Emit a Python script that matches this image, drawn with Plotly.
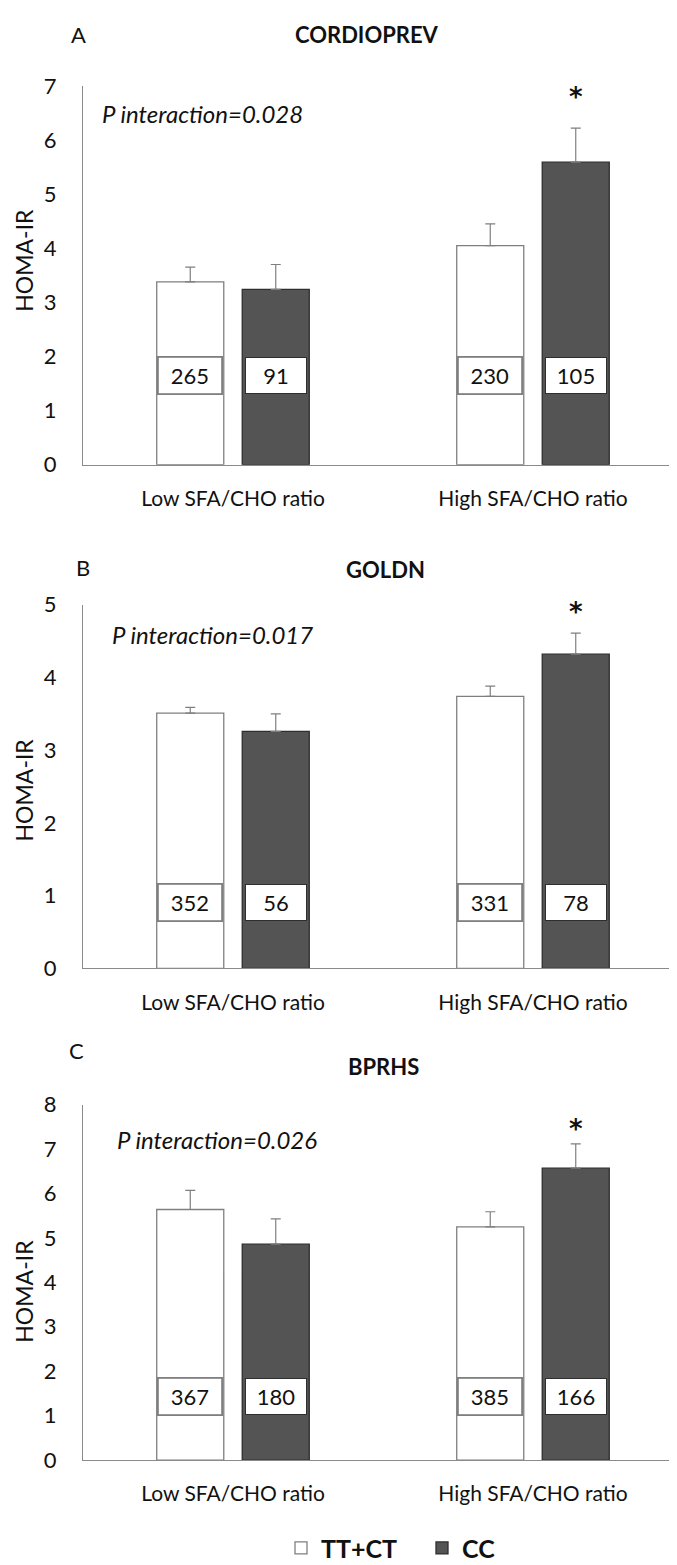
import plotly.graph_objects as go

# ---------------- data ----------------
categories = ["Low SFA/CHO ratio", "High SFA/CHO ratio"]
series_names = ["TT+CT", "CC"]
panel_letters = ["A", "B", "C"]
panel_titles = ["CORDIOPREV", "GOLDN", "BPRHS"]
p_interaction = ["P interaction=0.028", "P interaction=0.017", "P interaction=0.026"]

# HOMA-IR means
a_ttct = [3.38, 4.05]
a_cc = [3.24, 5.59]
b_ttct = [3.51, 3.74]
b_cc = [3.26, 4.32]
c_ttct = [5.64, 5.25]
c_cc = [4.86, 6.57]

# upper error (SE)
a_ttct_err = [0.27, 0.40]
a_cc_err = [0.46, 0.63]
b_ttct_err = [0.08, 0.14]
b_cc_err = [0.24, 0.29]
c_ttct_err = [0.43, 0.34]
c_cc_err = [0.57, 0.55]

# group sizes (n)
a_n_ttct = [265, 230]
a_n_cc = [91, 105]
b_n_ttct = [352, 331]
b_n_cc = [56, 78]
c_n_ttct = [367, 385]
c_n_cc = [180, 166]

y_max = [7, 5, 8]

# ---------------- layout constants ----------------
W, H = 677, 1565
FONT = "Lato"
BARGAP = 0.43
BARGROUPGAP = 0.216
OFF = (1 - BARGAP) / 4.0  # centre offset of each bar inside a category

# pixel frames of the three plots (bottom, top)
frames = [(450.5, 65.0), (963.0, 593.0), (1463.3, 1101.7)]
x_dom = [75 / W, 675 / W]
letter_pos = [(70, 13), (75, 555), (68, 1047)]
title_pos = [(359, 13), (377, 557), (375, 1063)]
ytitle_center = [243, 782, 1292]
pint_x = [-0.445, -0.41, -0.393]
pint_y = [6.49, 4.59, 7.22]
star_y = [6.80, 4.90, 7.45]
box_y = [1.64, 0.90, 1.43]

panels = [
    (a_ttct, a_cc, a_ttct_err, a_cc_err, a_n_ttct, a_n_cc),
    (b_ttct, b_cc, b_ttct_err, b_cc_err, b_n_ttct, b_n_cc),
    (c_ttct, c_cc, c_ttct_err, c_cc_err, c_n_ttct, c_n_cc),
]

WHITE_LINE = "#7f7f7f"
DARK_FILL = "#545454"
DARK_LINE = "#2e2e2e"
AXIS_COL = "#8a8a8a"
TXT = "#111111"

fig = go.Figure()
annotations = []
layout_axes = {}

for i, (wt, dk, wte, dke, nw, nd) in enumerate(panels):
    sfx = "" if i == 0 else str(i + 1)
    xa, ya = "x" + sfx, "y" + sfx
    fig.add_trace(go.Bar(
        x=categories, y=wt, name=series_names[0], xaxis=xa, yaxis=ya,
        marker=dict(color="white", line=dict(color=WHITE_LINE, width=1.3)),
        error_y=dict(type="data", array=wte, arrayminus=[0] * len(wte), symmetric=False,
                     color=WHITE_LINE, thickness=1.2, width=5),
        legendgroup="tt", showlegend=(i == 0), hoverinfo="skip",
    ))
    fig.add_trace(go.Bar(
        x=categories, y=dk, name=series_names[1], xaxis=xa, yaxis=ya,
        marker=dict(color=DARK_FILL, line=dict(color=DARK_LINE, width=1.3)),
        error_y=dict(type="data", array=dke, arrayminus=[0] * len(dke), symmetric=False,
                     color=WHITE_LINE, thickness=1.2, width=5),
        legendgroup="cc", showlegend=(i == 0), hoverinfo="skip",
    ))

    bot, top = frames[i]
    layout_axes["xaxis" + sfx] = dict(
        domain=x_dom, anchor=ya, type="category", range=[-0.5, 1.5],
        showline=True, linecolor=AXIS_COL, linewidth=1, showgrid=False, zeroline=False,
        ticks="outside", ticklen=15, tickcolor="rgba(0,0,0,0)",
        tickfont=dict(family=FONT, size=21, color=TXT), fixedrange=True,
    )
    layout_axes["yaxis" + sfx] = dict(
        domain=[1 - bot / H, 1 - top / H], anchor=xa, range=[0, y_max[i]], dtick=1,
        showline=True, linecolor=AXIS_COL, linewidth=1, showgrid=False, zeroline=False,
        ticks="outside", ticklen=21, tickcolor="rgba(0,0,0,0)",
        tickfont=dict(family=FONT, size=22, color=TXT), fixedrange=True,
    )

    # n boxes
    for j in range(len(categories)):
        annotations.append(dict(
            x=j - OFF, y=box_y[i], xref=xa, yref=ya, text=str(nw[j]), showarrow=False,
            font=dict(family=FONT, size=22, color=TXT), bgcolor="white",
            bordercolor=WHITE_LINE, borderwidth=1.8, borderpad=2, width=58, height=31,
            xanchor="center", yanchor="middle"))
        annotations.append(dict(
            x=j + OFF, y=box_y[i], xref=xa, yref=ya, text=str(nd[j]), showarrow=False,
            font=dict(family=FONT, size=22, color=TXT), bgcolor="white",
            bordercolor=DARK_LINE, borderwidth=1.0, borderpad=2, width=56, height=31,
            xanchor="center", yanchor="middle"))

    # significance star
    annotations.append(dict(
        x=1 + OFF, y=star_y[i], xref=xa, yref=ya, text="<b>*</b>", showarrow=False,
        font=dict(family="DejaVu Sans", size=26, color=TXT), xanchor="center", yanchor="middle"))

    # P interaction
    annotations.append(dict(
        x=pint_x[i], y=pint_y[i], xref=xa, yref=ya, text="<i>" + p_interaction[i] + "</i>",
        showarrow=False, font=dict(family=FONT, size=24, color=TXT),
        xanchor="left", yanchor="middle"))

    # panel letter and title
    lx, ly = letter_pos[i]
    annotations.append(dict(
        x=lx / W, y=1 - ly / H, xref="paper", yref="paper", text=panel_letters[i],
        showarrow=False, font=dict(family=FONT, size=22, color=TXT),
        xanchor="center", yanchor="middle"))
    tx, ty = title_pos[i]
    annotations.append(dict(
        x=tx / W, y=1 - ty / H, xref="paper", yref="paper", text="<b>" + panel_titles[i] + "</b>",
        showarrow=False, font=dict(family=FONT, size=22, color=TXT),
        xanchor="center", yanchor="middle"))

    # y axis title
    annotations.append(dict(
        x=16 / W, y=1 - ytitle_center[i] / H, xref="paper", yref="paper", text="HOMA-IR",
        textangle=-90, showarrow=False, font=dict(family=FONT, size=23, color=TXT),
        xanchor="center", yanchor="middle"))

fig.update_layout(
    width=W, height=H, autosize=False,
    margin=dict(l=0, r=0, t=0, b=0),
    paper_bgcolor="white", plot_bgcolor="white",
    barmode="group", bargap=BARGAP, bargroupgap=BARGROUPGAP,
    annotations=annotations,
    showlegend=True,
    legend=dict(
        orientation="h", x=273 / W, xanchor="left", y=1 - 1553 / H, yanchor="middle",
        font=dict(family=FONT, size=25, color=TXT, weight="bold"),
        entrywidth=96, traceorder="normal", bgcolor="rgba(0,0,0,0)",
    ),
    **layout_axes,
)

fig.write_html("out.html")
